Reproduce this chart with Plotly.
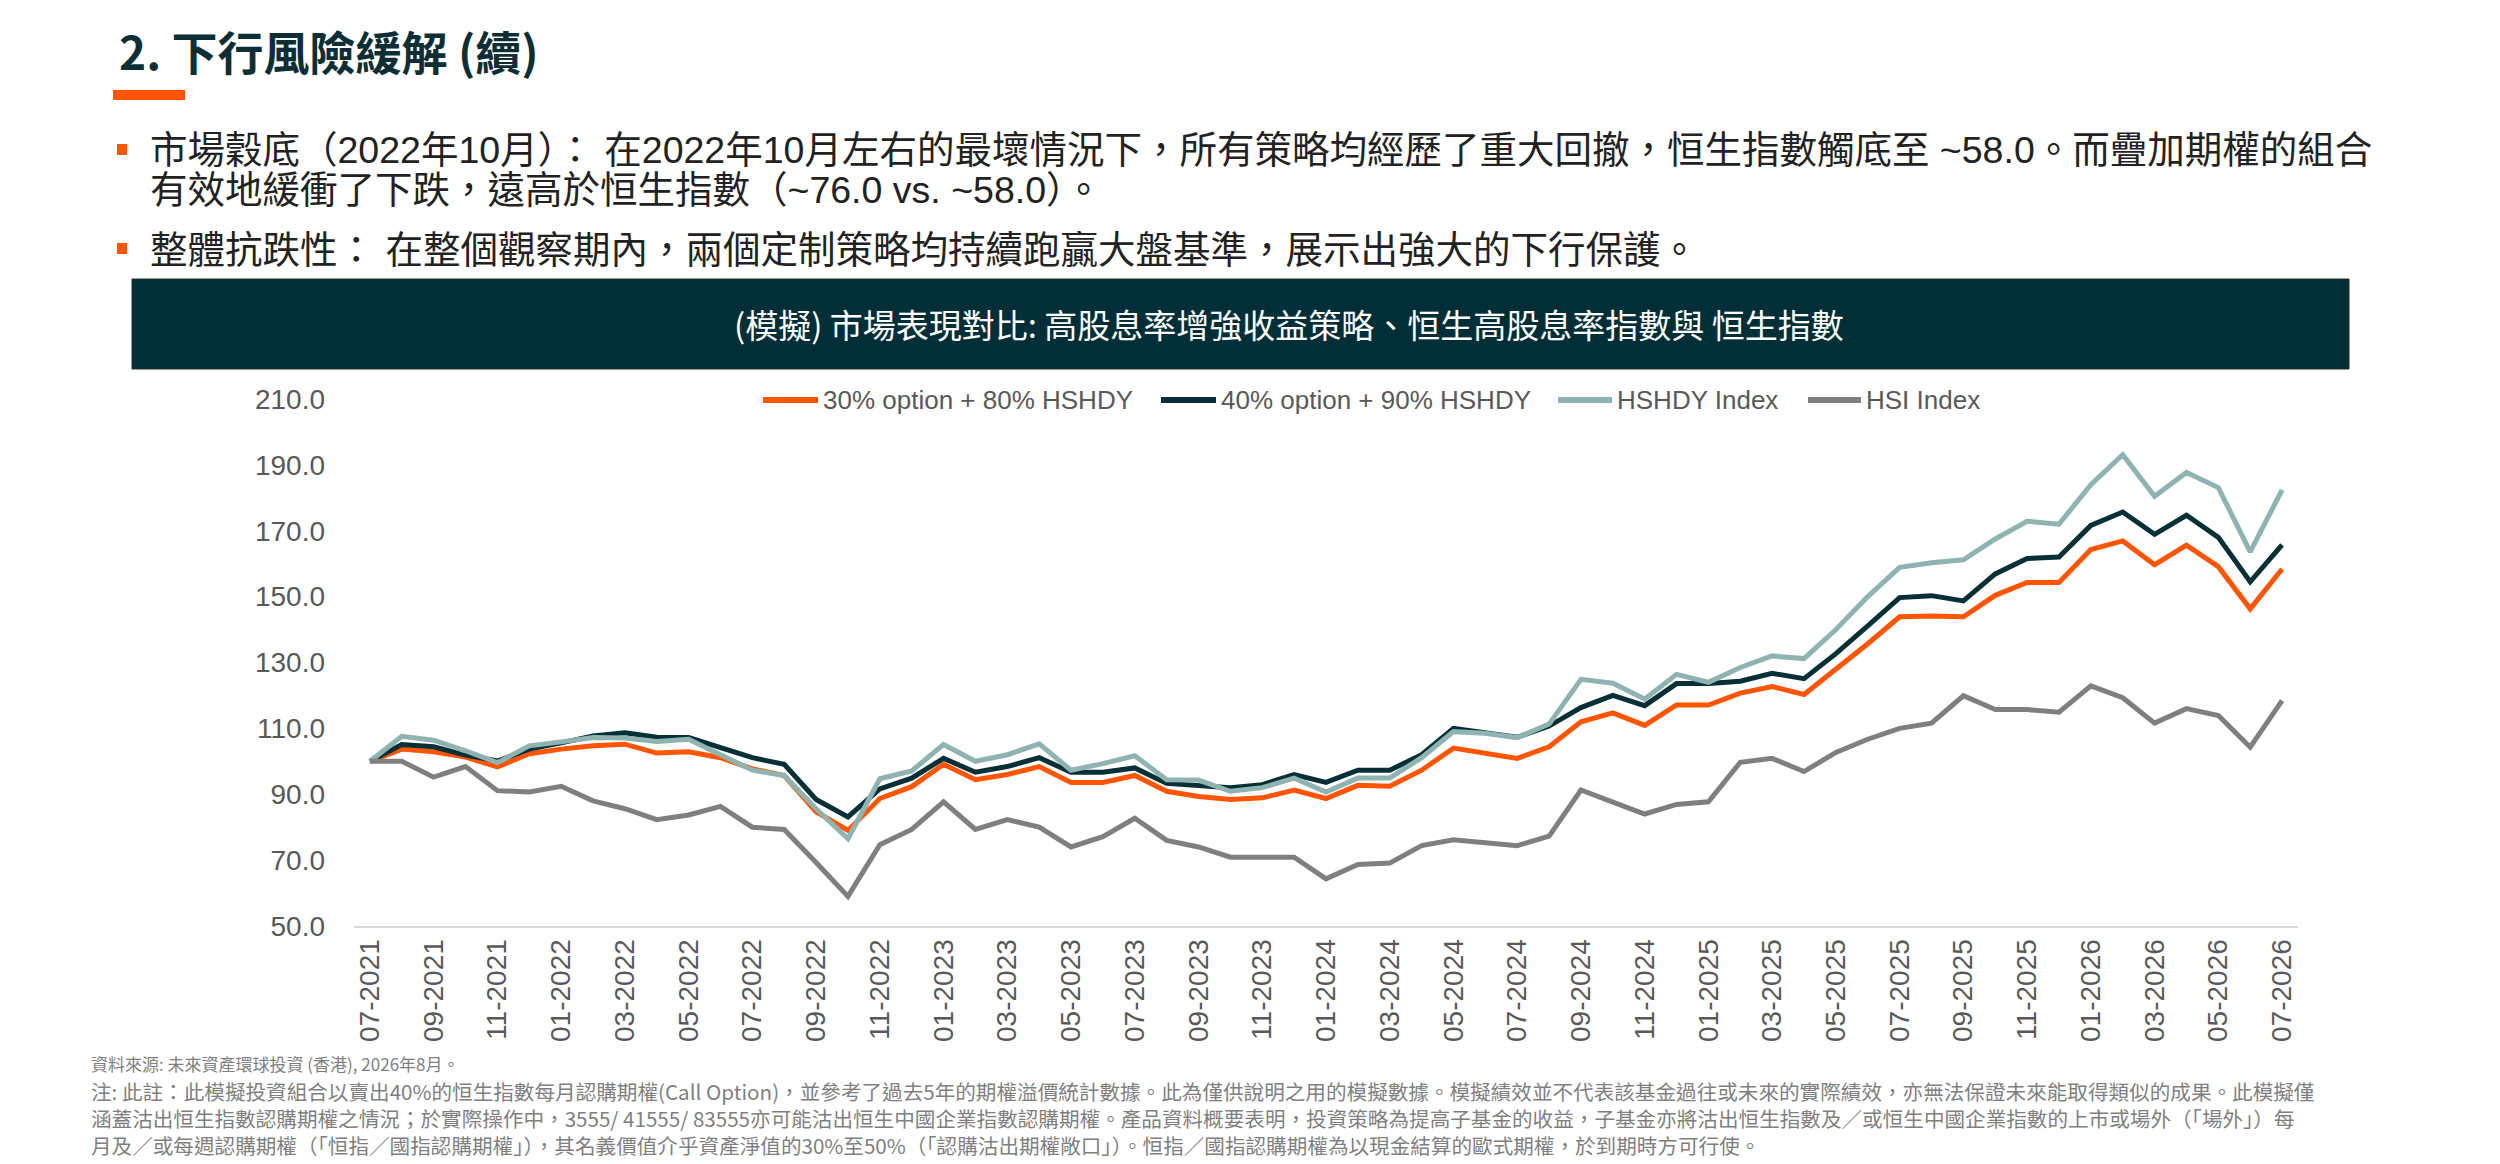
import plotly.graph_objects as go

W, H = 2500, 1164

months = ['07-2021', '08-2021', '09-2021', '10-2021', '11-2021', '12-2021',
          '01-2022', '02-2022', '03-2022', '04-2022', '05-2022', '06-2022',
          '07-2022', '08-2022', '09-2022', '10-2022', '11-2022', '12-2022',
          '01-2023', '02-2023', '03-2023', '04-2023', '05-2023', '06-2023',
          '07-2023', '08-2023', '09-2023', '10-2023', '11-2023', '12-2023',
          '01-2024', '02-2024', '03-2024', '04-2024', '05-2024', '06-2024',
          '07-2024', '08-2024', '09-2024', '10-2024', '11-2024', '12-2024',
          '01-2025', '02-2025', '03-2025', '04-2025', '05-2025', '06-2025',
          '07-2025', '08-2025', '09-2025', '10-2025', '11-2025', '12-2025',
          '01-2026', '02-2026', '03-2026', '04-2026', '05-2026', '06-2026',
          '07-2026']

opt30_hshdy80 = [100.0, 103.7, 102.9, 101.3, 98.3, 102.3, 103.7, 104.7, 105.2, 102.5,
                 102.9, 101.1, 97.7, 95.7, 84.7, 79.0, 88.7, 92.3, 99.1, 94.4,
                 96.0, 98.4, 93.6, 93.6, 95.7, 90.9, 89.3, 88.4, 88.9, 91.3,
                 88.7, 92.7, 92.4, 97.3, 104.0, 102.5, 100.9, 104.4, 112.0, 114.7,
                 110.9, 117.1, 117.1, 120.7, 122.7, 120.3, 128.0, 135.7, 143.9, 144.1,
                 143.9, 150.4, 154.3, 154.3, 164.3, 166.9, 159.7, 165.6, 159.1, 146.3,
                 158.4]

opt40_hshdy90 = [100.0, 105.1, 104.4, 101.9, 100.1, 103.7, 105.6, 107.7, 108.7, 107.3,
                 107.2, 104.0, 101.1, 99.1, 88.4, 83.1, 91.6, 94.9, 100.9, 96.7,
                 98.4, 101.1, 96.7, 96.7, 98.0, 93.3, 92.7, 92.0, 92.9, 96.0,
                 93.6, 97.3, 97.3, 102.0, 110.0, 108.5, 107.3, 110.7, 116.3, 120.0,
                 116.9, 123.6, 123.6, 124.3, 126.7, 125.1, 132.7, 141.1, 149.7, 150.3,
                 148.7, 156.9, 161.6, 162.0, 171.6, 175.7, 168.9, 174.7, 168.0, 154.5,
                 165.7]

hshdy_index = [100.0, 107.6, 106.4, 103.2, 99.6, 104.7, 105.9, 107.2, 107.1, 106.0,
               106.7, 102.0, 97.3, 95.7, 85.6, 76.5, 94.7, 97.1, 105.1, 100.0,
               102.0, 105.3, 97.3, 99.3, 101.7, 94.4, 94.3, 90.9, 92.0, 94.9,
               90.7, 94.9, 94.9, 101.1, 109.0, 108.5, 107.2, 111.3, 124.9, 123.7,
               118.9, 126.4, 124.0, 128.5, 132.0, 131.2, 140.0, 150.0, 158.9, 160.3,
               161.2, 167.5, 172.9, 172.0, 184.0, 193.1, 180.5, 187.7, 183.1, 163.6,
               182.4]

hsi_index = [100.0, 100.0, 95.2, 98.4, 91.1, 90.7, 92.4, 88.0, 85.6, 82.3,
             83.7, 86.3, 80.0, 79.3, 69.3, 59.0, 74.7, 79.3, 87.7, 79.3,
             82.3, 80.0, 74.0, 77.1, 82.7, 76.0, 74.0, 70.9, 70.9, 70.9,
             64.3, 68.7, 69.1, 74.4, 76.2, 75.2, 74.4, 77.3, 91.3, 87.6,
             84.0, 86.9, 87.7, 99.7, 100.9, 96.9, 102.7, 106.7, 110.0, 111.6,
             119.9, 115.7, 115.7, 114.9, 122.9, 119.3, 111.6, 116.0, 113.9, 104.3,
             118.4]

series_names = ['30% option + 80% HSHDY', '40% option + 90% HSHDY', 'HSHDY Index', 'HSI Index']
series_colors = ['#FF5500', '#062F36', '#8FB3B1', '#7F7F7F']
y_ticks = [50, 70, 90, 110, 130, 150, 170, 190, 210]

title_text = '2. 下行風險緩解 (續)'
bullet1_lines = ['市場穀底（2022年10月）： 在2022年10月左右的最壞情況下，所有策略均經歷了重大回撤，恒生指數觸底至 ~58.0。而疊加期權的組合',
                 '有效地緩衝了下跌，遠高於恒生指數（~76.0 vs. ~58.0）。']
bullet2_line = '整體抗跌性： 在整個觀察期內，兩個定制策略均持續跑贏大盤基準，展示出強大的下行保護。'
band_title = '(模擬) 市場表現對比: 高股息率增強收益策略、恒生高股息率指數與 恒生指數'
source_text = '資料來源: 未來資產環球投資 (香港), 2026年8月。'
note_lines = [
    '注: 此註：此模擬投資組合以賣出40%的恒生指數每月認購期權(Call Option)，並參考了過去5年的期權溢價統計數據。此為僅供說明之用的模擬數據。模擬績效並不代表該基金過往或未來的實際績效，亦無法保證未來能取得類似的成果。此模擬僅',
    '涵蓋沽出恒生指數認購期權之情況；於實際操作中，3555/ 41555/ 83555亦可能沽出恒生中國企業指數認購期權。產品資料概要表明，投資策略為提高子基金的收益，子基金亦將沽出恒生指數及／或恒生中國企業指數的上市或場外（「場外」）每',
    '月及／或每週認購期權（「恒指／國指認購期權」），其名義價值介乎資產淨值的30%至50%（「認購沽出期權敞口」）。恒指／國指認購期權為以現金結算的歐式期權，於到期時方可行使。',
]

FONT = 'Liberation Sans, Arial, Noto Sans CJK TC, sans-serif'
CJK = 'Noto Sans CJK TC, Liberation Sans, sans-serif'
ORANGE = '#FF5500'


def px(x):
    return x / W


def py(y):
    return 1 - y / H


fig = go.Figure()
for vals, name, color in zip([opt30_hshdy80, opt40_hshdy90, hshdy_index, hsi_index],
                             series_names, series_colors):
    fig.add_trace(go.Scatter(x=months, y=vals, name=name, mode='lines',
                             line=dict(color=color, width=5)))

shapes = [
    # orange underline of title
    dict(type='rect', x0=px(113), x1=px(185), y0=py(100), y1=py(90),
         fillcolor=ORANGE, line=dict(width=0)),
    # bullet squares
    dict(type='rect', x0=px(117), x1=px(127), y0=py(155), y1=py(144),
         fillcolor=ORANGE, line=dict(width=0)),
    dict(type='rect', x0=px(117), x1=px(127), y0=py(254), y1=py(243),
         fillcolor=ORANGE, line=dict(width=0)),
    # dark header band
    dict(type='rect', x0=px(132), x1=px(2349), y0=py(369), y1=py(279),
         fillcolor='#022F37', line=dict(color='#2B2B2B', width=1)),
]

annotations = [
    dict(text='<b>' + title_text + '</b>', x=px(117), y=py(50), xanchor='left', yanchor='middle',
         font=dict(family=CJK, size=46, color='#0D2E35')),
    dict(text=bullet1_lines[0], x=px(148), y=py(150), xanchor='left', yanchor='middle',
         font=dict(family=FONT, size=37.5, color='#222222')),
    dict(text=bullet1_lines[1], x=px(148), y=py(190), xanchor='left', yanchor='middle',
         font=dict(family=FONT, size=37.5, color='#222222')),
    dict(text=bullet2_line, x=px(148), y=py(250), xanchor='left', yanchor='middle',
         font=dict(family=FONT, size=37.5, color='#222222')),
    dict(text=band_title, x=px(1289), y=py(324), xanchor='center', yanchor='middle',
         font=dict(family=CJK, size=33, color='#FFFFFF')),
    dict(text=source_text, x=px(89), y=py(1063), xanchor='left', yanchor='middle',
         font=dict(family=CJK, size=17, color='#7F7F7F')),
    dict(text='<br>'.join(note_lines), x=px(89), y=py(1118), xanchor='left', yanchor='middle',
         align='left', font=dict(family=CJK, size=20.6, color='#7F7F7F')),
]

# legend drawn as short line samples with labels above the plot
legend_line_x = [(763, 818), (1161, 1216), (1558, 1612), (1808, 1861)]
for (x0, x1), name, color in zip(legend_line_x, series_names, series_colors):
    shapes.append(dict(type='line', x0=px(x0), x1=px(x1), y0=py(400), y1=py(400),
                       line=dict(color=color, width=6)))
    annotations.append(dict(text=name, x=px(x1 + 3), y=py(400), xanchor='left', yanchor='middle',
                            font=dict(family=FONT, size=26, color='#595959')))

for s in shapes:
    s.update(xref='paper', yref='paper')
for a in annotations:
    a.update(xref='paper', yref='paper', showarrow=False)

fig.update_layout(
    width=W, height=H,
    margin=dict(l=0, r=0, t=0, b=0),
    paper_bgcolor='white', plot_bgcolor='white',
    font=dict(family=FONT, color='#595959'),
    showlegend=False,
    xaxis=dict(domain=[px(354), px(2298)], type='category', range=[-0.5, len(months) - 0.5],
               tickangle=-90, tickvals=months[::2], ticktext=months[::2],
               tickfont=dict(family=FONT, size=28, color='#595959'),
               showgrid=False, showline=True, linecolor='#D9D9D9', linewidth=2,
               ticks='', zeroline=False, automargin=False),
    yaxis=dict(domain=[py(926), py(399)], range=[50, 210], tickvals=y_ticks, tickformat='.1f',
               tickfont=dict(family=FONT, size=28, color='#595959'),
               showgrid=False, showline=False, zeroline=False, ticks='',
               ticklabelstandoff=28, automargin=False),
    shapes=shapes,
    annotations=annotations,
)

fig.write_html('out.html', config={'displayModeBar': False},
               post_script="document.body.style.margin='0';document.body.style.overflow='hidden';")
